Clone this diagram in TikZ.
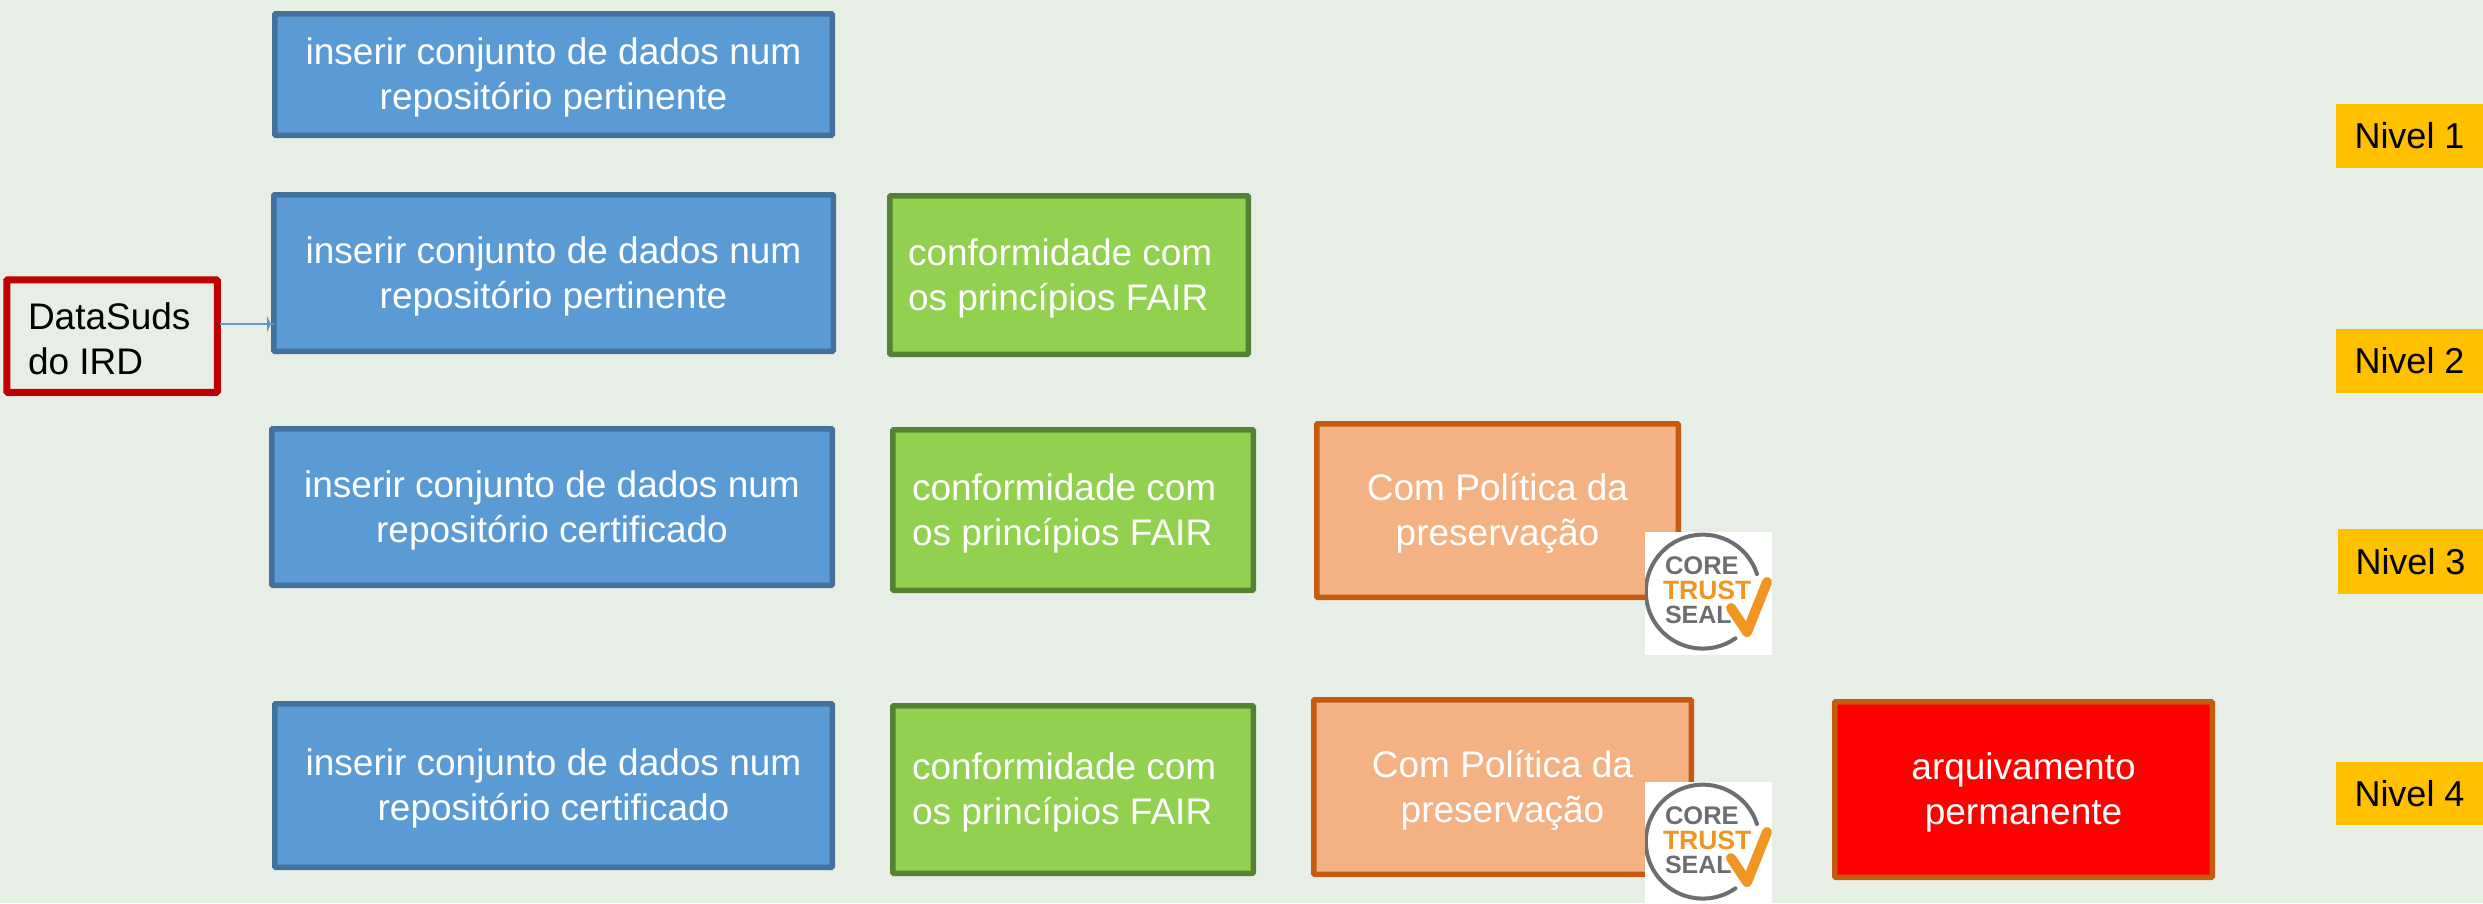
\documentclass[tikz,border=0pt]{standalone}
\usepackage{graphicx}
\usepackage{fontspec}
\setmainfont{Liberation Sans}
\definecolor{bgc}{HTML}{E7EEE6}
\definecolor{bluef}{HTML}{5B9BD5}
\definecolor{blued}{HTML}{41719C}
\definecolor{greenf}{HTML}{92D050}
\definecolor{greend}{HTML}{548235}
\definecolor{orangef}{HTML}{F4B183}
\definecolor{oranged}{HTML}{C55A11}
\definecolor{redb}{HTML}{C00000}
\definecolor{gold}{HTML}{FFC000}
\definecolor{sealg}{HTML}{6D6E71}
\definecolor{sealo}{HTML}{F09522}
\tikzset{
  boxbase/.style={rectangle,inner sep=0pt,outer sep=0pt,rounded corners=1pt,line width=5.5pt,draw,font=\fontsize{37}{45}\selectfont,text=white,align=flush center,execute at begin node={\rule{0pt}{33pt}}},
  bluebox/.style={boxbase,draw=blued,fill=bluef,text width=510pt},
  greenbox/.style={boxbase,draw=greend,fill=greenf,align=flush left},
  orangebox/.style={boxbase,draw=oranged,fill=orangef,text width=300pt},
  redbox/.style={boxbase,draw=oranged,fill=red,text width=300pt},
  sourcebox/.style={boxbase,draw=redb,fill=bgc,line width=7pt,text=black,align=flush left},
  levelbox/.style={rectangle,inner sep=0pt,outer sep=0pt,fill=gold,text=black,font=\fontsize{36}{40}\selectfont},
  sealword/.style={inner sep=0pt,outer sep=0pt,anchor=west,font=\bfseries}
}
\newcommand{\bx}[7]{\node[#6,minimum width={(#4-#2-5.5)*1pt},minimum height={(#5-#3-5.5)*1pt}] (#1) at ({(#2+#4)/2},{(#3+#5)/2}) {#7};}
\newcommand{\lvl}[6]{\node[levelbox,minimum width={(#4-#2)*1pt},minimum height={(#5-#3)*1pt}] (#1) at ({(#2+#4)/2},{(#3+#5)/2}) {#6};}
\newcommand{\sealmark}[3]{%
  \begin{scope}[shift={(#2,#3)}]
    \fill[white] (0,0) rectangle (127,123);
    \begin{scope}
      \clip (0,0) rectangle (127,123);
      \draw[sealg,line width=4pt,line cap=round] (112,42) arc[start angle=-18,end angle=-305,radius=57];
      \node[sealword,text=sealg,font=\bfseries\fontsize{25.5}{26}\selectfont] (#1core) at (20,34) {CORE};
      \node[sealword,text=sealo,font=\bfseries\fontsize{26.5}{27}\selectfont] (#1trust) at (18,58) {TRUST};
      \node[sealword,text=sealg,font=\bfseries\fontsize{25}{26}\selectfont] (#1seal) at (20,83) {SEAL};
      \draw[sealo,line width=10pt,line cap=round,line join=round] (86,76) -- (102,100) -- (122,50);
    \end{scope}
  \end{scope}}
\begin{document}
\begin{tikzpicture}[x=1pt,y=-1pt]
\useasboundingbox (0,0) rectangle (2483,903);
\fill[bgc] (0,0) rectangle (2483,903);
% left column
\bx{ba}{272}{11}{835}{138}{bluebox}{inserir conjunto de dados num\\repositório pertinente}
\bx{bb}{271}{192}{836}{354}{bluebox}{inserir conjunto de dados num\\repositório pertinente}
\bx{bc}{269}{426}{835}{588}{bluebox}{inserir conjunto de dados num\\repositório certificado}
\bx{bd}{272}{701}{835}{870}{bluebox}{inserir conjunto de dados num\\repositório certificado}
% green column
\bx{ga}{887}{193}{1251}{357}{greenbox,text width=322pt}{conformidade com\\os princípios FAIR}
\bx{gb}{890}{427}{1256}{593}{greenbox,text width=322pt}{conformidade com\\os princípios FAIR}
\bx{gc}{890}{703}{1256}{876}{greenbox,text width=322pt}{conformidade com\\os princípios FAIR}
% orange column
\bx{oa}{1314}{421}{1681}{600}{orangebox}{Com Política da\\preservação}
\bx{ob}{1311}{697}{1694}{877}{orangebox}{Com Política da\\preservação}
\bx{ra}{1832}{699}{2215}{880}{redbox}{arquivamento\\permanente}
% source
\bx{ds}{4}{277}{220}{395}{sourcebox,text width=168pt}{DataSuds\\do IRD}
\coordinate (dsout) at (220,324);
\draw[bluef,line width=2.5pt] (dsout) -- (dsout -| bb.west);
\fill[bluef] (267,316) -- (271,324) -- (267,332) -- cycle;
% seals
\sealmark{sa}{1645}{532}
\sealmark{sb}{1645}{782}
% levels
\lvl{la}{2336}{104}{2483}{168}{Nivel 1}
\lvl{lb}{2336}{329}{2483}{393}{Nivel 2}
\lvl{lc}{2338}{529}{2483}{594}{Nivel 3}
\lvl{ld}{2336}{762}{2483}{825}{Nivel 4}
\end{tikzpicture}
\end{document}
